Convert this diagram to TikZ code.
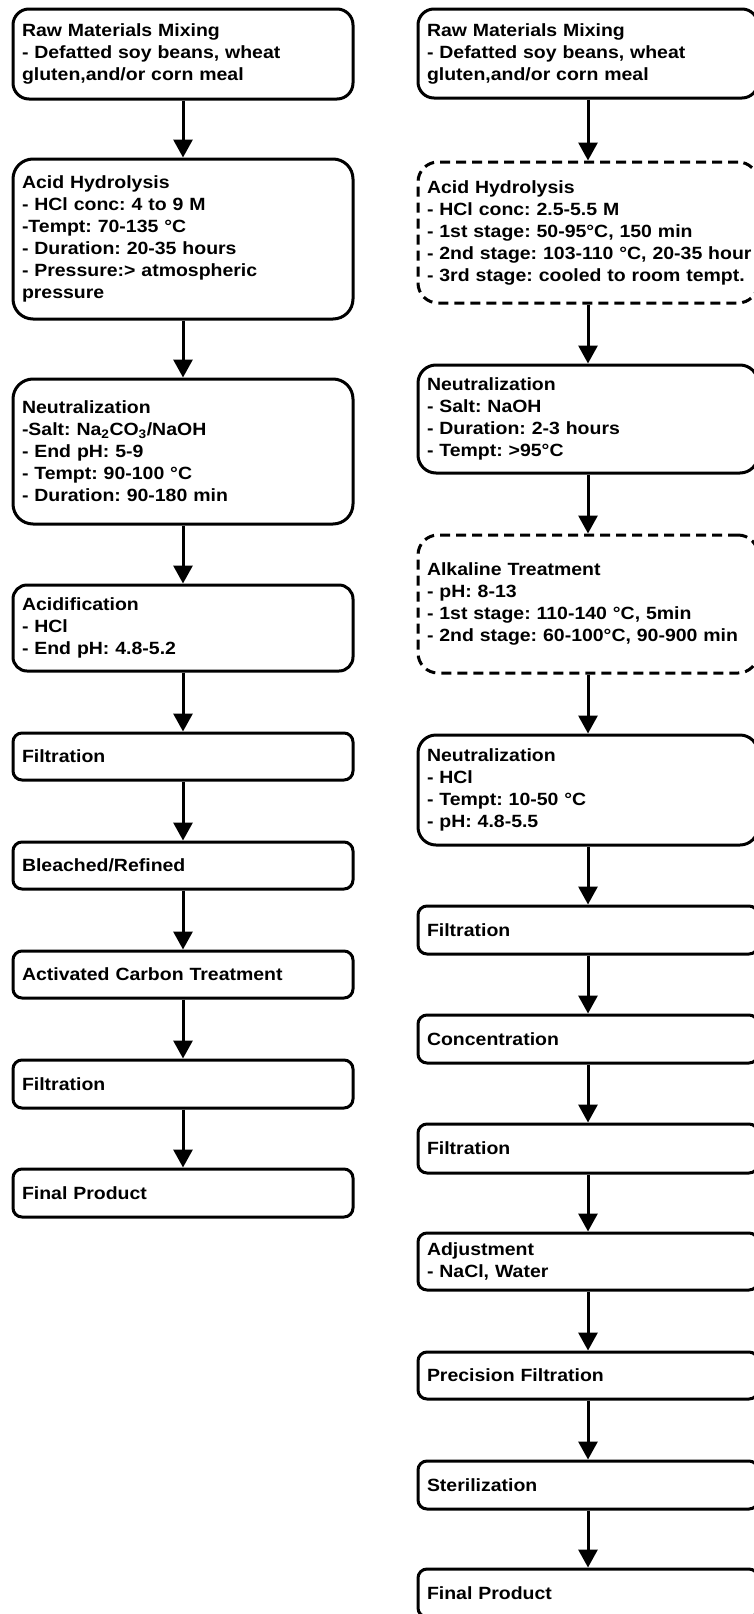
\documentclass[tikz,border=0pt]{standalone}
\usepackage{fontspec}
\setmainfont{Liberation Sans}[FakeStretch=1.1]
\usetikzlibrary{arrows.meta}
\frenchspacing

\begin{document}
\begin{tikzpicture}[x=1pt, y=-1pt, >={Triangle[length=18pt, width=19pt]},
		stage/.style={draw, line width=3pt, rounded corners=#1, text width=322pt, inner xsep=9pt, inner ysep=0pt, align=left, font=\fontsize{17.7}{22}\selectfont\bfseries},
		stage/.default=9pt,
		optional/.style={dash pattern=on 10pt off 6pt},
		flow/.style={->, line width=3pt}]
	\useasboundingbox (0,0) rectangle (753,1614);
	% conventional route
	\node[stage=16pt, minimum height=90pt] (l1) at (183,54) {Raw Materials Mixing\\- Defatted soy beans, wheat\\gluten,and/or corn meal};
	\node[stage=20pt, minimum height=160pt] (l2) at (183,239) {Acid Hydrolysis\\- HCl conc: 4 to 9 M\\-Tempt: 70-135 °C\\- Duration: 20-35 hours\\- Pressure:> atmospheric\\pressure};
	\node[stage=20pt, minimum height=145pt] (l3) at (183,451.5) {Neutralization\\-Salt: Na\textsubscript{2}CO\textsubscript{3}/NaOH\\- End pH: 5-9\\- Tempt: 90-100 °C\\- Duration: 90-180 min};
	\node[stage=14pt, minimum height=86pt] (l4) at (183,628) {Acidification\\- HCl\\- End pH: 4.8-5.2};
	\node[stage, minimum height=47pt] (l5) at (183,756.5) {Filtration};
	\node[stage, minimum height=47pt] (l6) at (183,865.5) {Bleached/Refined};
	\node[stage, minimum height=47pt] (l7) at (183,974.5) {Activated Carbon Treatment};
	\node[stage, minimum height=48pt] (l8) at (183,1084) {Filtration};
	\node[stage, minimum height=48pt] (l9) at (183,1193) {Final Product};
	\draw[flow] (l1) -- (l2);
	\draw[flow] (l2) -- (l3);
	\draw[flow] (l3) -- (l4);
	\draw[flow] (l4) -- (l5);
	\draw[flow] (l5) -- (l6);
	\draw[flow] (l6) -- (l7);
	\draw[flow] (l7) -- (l8);
	\draw[flow] (l8) -- (l9);
	% two-stage route
	\node[stage=16pt, minimum height=89pt] (r1) at (588,53.5) {Raw Materials Mixing\\- Defatted soy beans, wheat\\gluten,and/or corn meal};
	\node[stage=20pt, optional, minimum height=141pt] (r2) at (588,232.5) {Acid Hydrolysis\\- HCl conc: 2.5-5.5 M\\- 1st stage: 50-95°C, 150 min\\\mbox{- 2nd stage: 103-110 °C, 20-35 hour}\\- 3rd stage: cooled to room tempt.};
	\node[stage=18pt, minimum height=108pt] (r3) at (588,419) {Neutralization\\- Salt: NaOH\\- Duration: 2-3 hours\\- Tempt: >95°C};
	\node[stage=20pt, optional, minimum height=138pt] (r4) at (588,604) {Alkaline Treatment\\- pH: 8-13\\- 1st stage: 110-140 °C, 5min\\- 2nd stage: 60-100°C, 90-900 min};
	\node[stage=18pt, minimum height=110pt] (r5) at (588,790) {Neutralization\\- HCl\\- Tempt: 10-50 °C\\- pH: 4.8-5.5};
	\node[stage, minimum height=48pt] (r6) at (588,930) {Filtration};
	\node[stage, minimum height=48pt] (r7) at (588,1039) {Concentration};
	\node[stage, minimum height=49pt] (r8) at (588,1148.5) {Filtration};
	\node[stage, minimum height=57pt] (r9) at (588,1261.5) {Adjustment\\- NaCl, Water};
	\node[stage, minimum height=47pt] (r10) at (588,1375.5) {Precision Filtration};
	\node[stage, minimum height=48pt] (r11) at (588,1485) {Sterilization};
	\node[stage, minimum height=48pt] (r12) at (588,1593) {Final Product};
	\draw[flow] (r1) -- (r2);
	\draw[flow] (r2) -- (r3);
	\draw[flow] (r3) -- (r4);
	\draw[flow] (r4) -- (r5);
	\draw[flow] (r5) -- (r6);
	\draw[flow] (r6) -- (r7);
	\draw[flow] (r7) -- (r8);
	\draw[flow] (r8) -- (r9);
	\draw[flow] (r9) -- (r10);
	\draw[flow] (r10) -- (r11);
	\draw[flow] (r11) -- (r12);
\end{tikzpicture}
\end{document}
